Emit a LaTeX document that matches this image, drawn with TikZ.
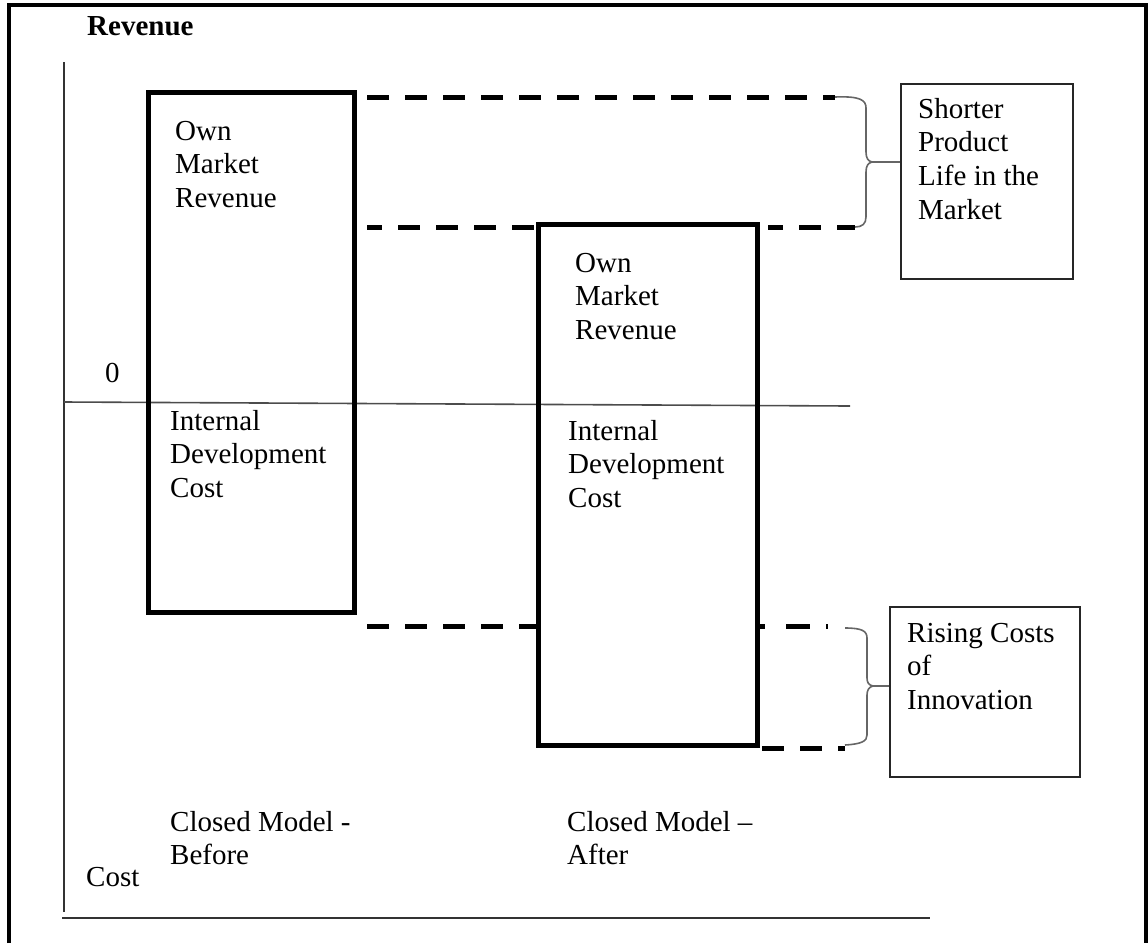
\documentclass[tikz,border=0pt]{standalone}
\usepackage{fontspec}
\setmainfont{Liberation Serif}
\begin{document}
\begin{tikzpicture}[x=1pt,y=-1pt,
  every node/.style={inner sep=0pt, font=\fontsize{29}{33.8}\selectfont},
  txt/.style={align=left, anchor=base west},
  bar/.style={draw, line width=5pt, minimum width=#1},
  labelbox/.style={draw=black!85, line width=1.6pt},
  axis/.style={draw=black!80, line width=1.6pt},
  dashline/.style={line width=5pt, dash pattern=on 22pt off 16pt},
  bracket/.style={draw=black!60, line width=1.6pt}]
\useasboundingbox (0,0) rectangle (1148,943);

% open frame
\draw[line width=4pt] (9,943) -- (9,5) -- (1146,5) -- (1146,943);

% axes
\coordinate (ax0) at (64,62);
\coordinate (ax1) at (64,912);
\coordinate (bx0) at (62,918);
\coordinate (bx1) at (930,918);
\coordinate (z0) at (64,402);
\coordinate (z1) at (850,406);
\draw[axis] (ax0) -- (ax1);
\draw[axis, line width=2pt] (bx0) -- (bx1);
\draw[axis, draw=black!70] (z0) -- (z1);

% bars
\node[bar=206pt, minimum height=519.5pt] (b1) at (251.5,352.25) {};
\node[bar=219pt, minimum height=521pt] (b2) at (648,485) {};

% label boxes
\node[labelbox, minimum width=172pt, minimum height=195pt] (sh) at (987,181.5) {};
\node[labelbox, minimum width=190pt, minimum height=170pt] (ri) at (985,692) {};

% levels of the dashed guides
\coordinate (yA) at (0,97);
\coordinate (yB) at (0,227);
\coordinate (yC) at (0,626);
\coordinate (yD) at (0,748);

% upper bracket
\coordinate (ua) at (835,97);
\coordinate (ut) at (872,162);
\coordinate (ub) at (855,227);
\draw[bracket] (ua) .. controls (860,96) and (866,100) .. (866,108) -- (866,152)
  .. controls (866,158) and (868,161) .. (ut)
  .. controls (868,163) and (866,166) .. (866,172) -- (866,217)
  .. controls (866,224) and (862,227) .. (ub);
\draw[bracket] (ut) -- (ut -| sh.west);

% lower bracket
\coordinate (la) at (845,628);
\coordinate (lt) at (873,686);
\coordinate (lb) at (845,745);
\draw[bracket] (la) .. controls (862,628) and (867,631) .. (867,638) -- (867,678)
  .. controls (867,683) and (869,685) .. (lt)
  .. controls (869,687) and (867,690) .. (867,695) -- (867,735)
  .. controls (867,741) and (862,744) .. (lb);
\draw[bracket] (lt) -- (lt -| ri.west);

% dashed guides
\draw[dashline] ([xshift=10pt]b1.east |- yA) -- (ua);
\draw[dashline, dash phase=7pt] ([xshift=10pt]b1.east |- yB) -- (b2.west |- yB);
\draw[dashline, dash phase=7pt] ([xshift=8pt]b2.east |- yB) -- (ub);
\draw[dashline] ([xshift=10pt]b1.east |- yC) -- (b2.west |- yC);
\draw[line width=5pt, dash pattern=on 5pt off 21pt on 24pt off 16pt on 5pt off 100pt]
  (b2.east |- yC) -- (828,626);
\draw[dashline] ([xshift=2pt]b2.east |- yD) -- (lb |- yD);

% texts (positioned by the baseline of their last line)
\node[txt] (rev) at (87,35) {\bfseries Revenue};
\node[txt] (zero) at (105,382) {0};
\node[txt] (cost) at (86,886) {Cost};
\node[txt] (b1top) at (175,207.6) {Own\\Market\\Revenue};
\node[txt] (b1bot) at (170,497.6) {Internal\\Development\\Cost};
\node[txt] (b2top) at (575,339.6) {Own\\Market\\Revenue};
\node[txt] (b2bot) at (568,507.6) {Internal\\Development\\Cost};
\node[txt] (shtxt) at (918,219.4) {Shorter\\Product\\Life in the\\Market};
\node[txt] (ritxt) at (907,709.6) {Rising Costs\\of\\Innovation};
\node[txt] (before) at (170,864.8) {Closed Model -\\Before};
\node[txt] (after) at (567,864.8) {Closed Model --\\After};
\end{tikzpicture}
\end{document}
